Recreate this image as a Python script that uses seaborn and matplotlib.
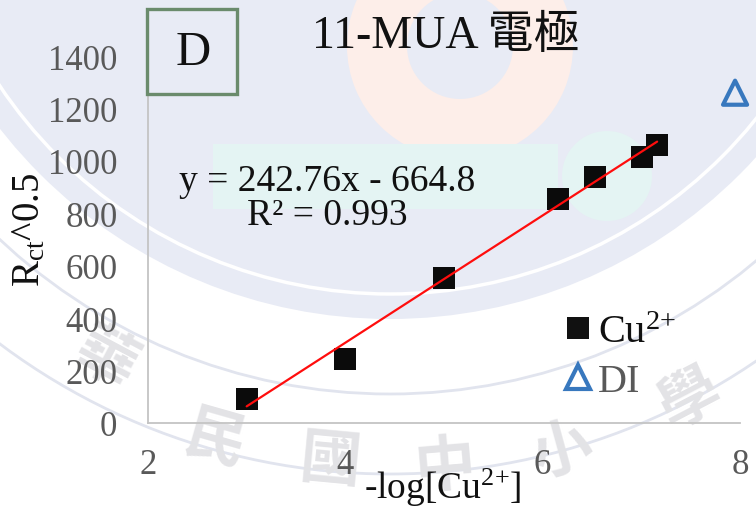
import numpy as np
import pandas as pd
import seaborn as sns
import matplotlib.pyplot as plt
from matplotlib.patches import Circle, Wedge, Rectangle
from matplotlib.lines import Line2D

# ---------------- data ----------------
x_cu = [3.0, 4.0, 5.0, 6.16, 6.53, 7.01, 7.16]
y_cu = [92, 244, 553, 855, 939, 1015, 1061]
x_di = [7.95]
y_di = [1260]
slope = 242.76
intercept = -664.8
r_squared = 0.993
x_ticks = [2, 4, 6, 8]
y_ticks = [0, 200, 400, 600, 800, 1000, 1200, 1400]

sns.set_theme(style="white")
plt.rcParams['font.family'] = ['Liberation Serif', 'Noto Sans CJK TC', 'DejaVu Sans']
plt.rcParams['mathtext.fontset'] = 'custom'
plt.rcParams['mathtext.rm'] = 'Liberation Serif'
plt.rcParams['mathtext.it'] = 'Liberation Serif:italic'
plt.rcParams['mathtext.bf'] = 'Liberation Serif:bold'

W, H = 756, 510
fig = plt.figure(figsize=(W / 100, H / 100), dpi=100)
fig.patch.set_facecolor('white')

# ---------------- background watermark ----------------
bg = fig.add_axes([0, 0, 1, 1], zorder=0)
bg.set_xlim(0, W)
bg.set_ylim(H, 0)
bg.axis('off')
cx, cy = 390, -175
bg.add_patch(Circle((cx, cy), 495, facecolor='#e8ebf5', edgecolor='none'))
for r, col, lw in [(470, 'white', 2.5), (570, '#e1e4ee', 2.0), (650, '#e1e4ee', 2.0)]:
    bg.add_patch(Circle((cx, cy), r, facecolor='none', edgecolor=col, lw=lw))
bg.add_patch(Wedge((460, 47), 113, 0, 360, width=60, facecolor='#fdeee9', edgecolor='none'))
bg.add_patch(Rectangle((213, 145), 345, 65, facecolor='#e4f4f3', edgecolor='none'))
bg.add_patch(Circle((607, 177), 45, facecolor='#e4f4f3', edgecolor='none'))
for ch, (px, py) in zip('華民國中小學', [(105, 360), (215, 440), (330, 462), (445, 468), (562, 452), (690, 400)]):
    rot = -np.degrees(np.arctan2(cx - px, py - cy))
    bg.text(px, py, ch, fontsize=44, color='#e3e3e6', fontweight='bold',
            family=['Noto Sans CJK TC'], ha='center', va='center', rotation=rot)

# ---------------- main axes ----------------
ax = fig.add_axes([148 / W, (H - 424) / H, (740 - 148) / W, (424 - 57) / H], zorder=1)
ax.patch.set_alpha(0)

xs = np.array([min(x_cu), max(x_cu)])
sns.lineplot(x=xs, y=slope * xs + intercept, color='#ff0d0d', lw=1.6, ax=ax, zorder=3)
sns.scatterplot(x=x_cu, y=y_cu, marker='s', s=250, color='#0b0b0b', edgecolor='none',
                ax=ax, zorder=2, legend=False)
sns.scatterplot(x=x_di, y=y_di, marker='^', s=300, facecolor='none', edgecolor='#3878be',
                linewidth=3, ax=ax, zorder=2, legend=False, clip_on=False)

ax.set_xlim(2, 8)
ax.set_ylim(0, 1400)
ax.set_xticks(x_ticks)
ax.set_yticks(y_ticks)
ax.tick_params(axis='both', length=0, labelsize=25, labelcolor='#595959')
ax.tick_params(axis='x', pad=18)
ax.tick_params(axis='y', pad=22)
for s in ['top', 'right']:
    ax.spines[s].set_visible(False)
for s in ['left', 'bottom']:
    ax.spines[s].set_color('#c4c4c4')
    ax.spines[s].set_linewidth(1.3)
ax.set_xlabel('')
ax.set_ylabel('')

handles = [Line2D([], [], ls='', marker='s', markersize=15.5, color='#111111', markeredgewidth=0),
           Line2D([], [], ls='', marker='^', markersize=17, markerfacecolor='none',
                  markeredgecolor='#3878be', markeredgewidth=3)]
leg = ax.legend(handles, ['Cu$^{2{+}}$', 'DI'], loc='center left',
                bbox_to_anchor=((558 - 148) / 592, (424 - 358) / 367), frameon=False,
                fontsize=29, handlelength=1.0, handletextpad=0.0, borderpad=0,
                borderaxespad=0, labelspacing=0.3)
leg.get_texts()[0].set_color('#111111')
leg.get_texts()[1].set_color('#595959')

# ---------------- overlay texts ----------------
ov = fig.add_axes([0, 0, 1, 1], zorder=3)
ov.set_xlim(0, W)
ov.set_ylim(H, 0)
ov.axis('off')
ov.add_patch(Rectangle((147, 10), 90, 85, facecolor='#e8ebf5', edgecolor='#6a8b6c', lw=2.4))
ov.text(193, 53, 'D', fontsize=35, ha='center', va='center', color='#111111')
ov.text(446, 37, '11-MUA 電極', fontsize=33, ha='center', va='center', color='#111111')
ov.text(327, 199, f'y = {slope}x - {abs(intercept)}\nR² = {r_squared}', fontsize=27,
        ha='center', va='center', color='#111111', linespacing=1.0, multialignment='center')
ov.text(30, 230, 'R$_{\\mathrm{ct}}$^0.5', fontsize=28, rotation=90, ha='center', va='center',
        color='#111111')
ov.text(443, 509, '-log[Cu$^{2{+}}$]', fontsize=27, ha='center', va='bottom', color='#111111')

fig.savefig('out.png', dpi=100)
